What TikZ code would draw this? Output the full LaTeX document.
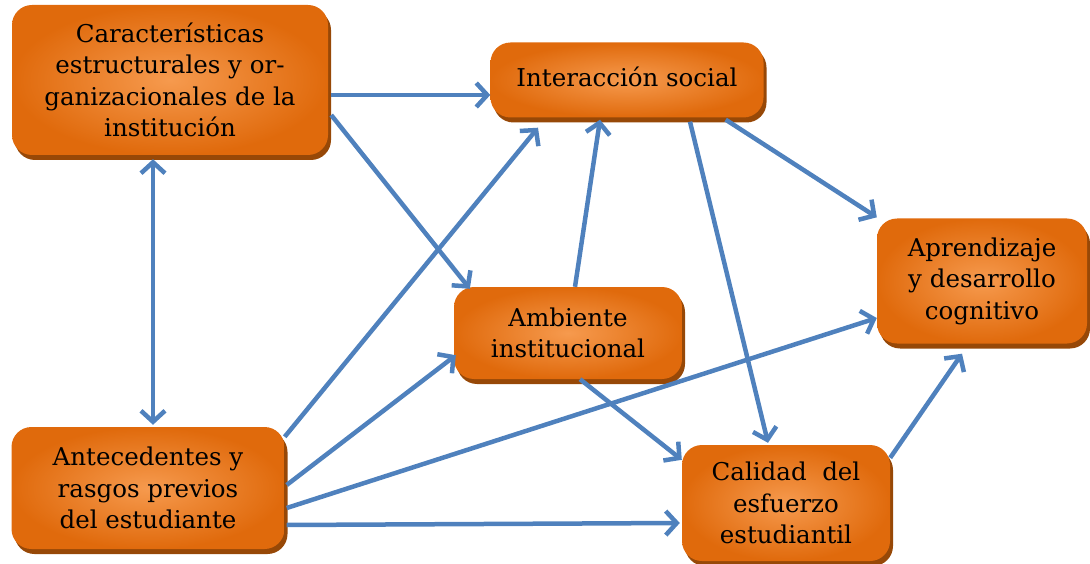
\documentclass[tikz,border=0pt]{standalone}
\usepackage{fontspec}
\setmainfont{DejaVu Serif}
\usetikzlibrary{arrows.meta,shadows,calc}
\definecolor{boxout}{RGB}{224,106,12}
\definecolor{boxin}{RGB}{246,154,78}
\definecolor{boxshade}{RGB}{151,72,7}
\definecolor{linkblue}{RGB}{79,129,189}
\tikzset{
  factor/.style={rounded corners=20pt, align=center, inner sep=0pt,
    shading=radial, inner color=boxin, outer color=boxout,
    drop shadow={shadow xshift=3pt, shadow yshift=-5pt, fill=boxshade, opacity=1},
    font=\fontsize{24.5}{31.5}\selectfont},
  link/.style={draw=linkblue, line width=4.5pt,
    -{Straight Barb[length=11pt,width=24pt]}},
  bilink/.style={link, {Straight Barb[length=11pt,width=24pt]}-{Straight Barb[length=11pt,width=24pt]}}
}
\begin{document}
\begin{tikzpicture}[x=1pt,y=-1pt]
        \useasboundingbox (0,0) rectangle (1090,564);

        % Placing the boxes
        \node [factor, minimum width=316pt, minimum height=150pt] (caract) at (170,80)
          {Características\\estructurales y or-\\ganizacionales de la\\institución};%
        \node [factor, minimum width=273pt, minimum height=75pt] (interac) at (627,80)
          {\raisebox{6pt}{Interacción social}};%
        \node [factor, minimum width=210pt, minimum height=125pt] (aprend) at (982,281)
          {Aprendizaje\\y desarrollo\\cognitivo};%
        \node [factor, minimum width=228pt, minimum height=92pt] (ambiente) at (568,333)
          {Ambiente\\institucional};%
        \node [factor, minimum width=273pt, minimum height=122pt] (anteced) at (148,488)
          {Antecedentes y\\rasgos previos\\del estudiante};%
        \node [factor, minimum width=208pt, minimum height=116pt] (calidad) at (786,503)
          {Calidad\ \ del\\esfuerzo\\estudiantil};%

        % Drawing arrows from caract
        \draw [link] ([xshift=3pt,yshift=-15pt]caract.east) -- ([yshift=-15pt]interac.west);%
        \draw [link] ([xshift=3pt,yshift=-35pt]caract.east) -- ([xshift=16pt,yshift=-2pt]ambiente.north west);%
        \draw [bilink] ([xshift=-17pt,yshift=-4pt]caract.south) -- ([xshift=5pt,yshift=2pt]anteced.north);%

        % Drawing arrows from anteced
        \draw [link] ([yshift=-10pt]anteced.north east) -- ([xshift=-89pt,yshift=-10pt]interac.south);%
        \draw [link] ([xshift=2pt,yshift=3pt]anteced.east) -- ([xshift=2pt,yshift=24pt]ambiente.south west);%
        \draw [link] ([xshift=2pt,yshift=-20pt]anteced.east) -- ([yshift=-37pt]aprend.west);%
        \draw [link] ([xshift=2pt,yshift=-37pt]anteced.east) -- ([xshift=-2pt,yshift=-20pt]calidad.west);%

        % Drawing arrows from ambiente
        \draw [link] ([xshift=7pt]ambiente.north) -- ([xshift=-27pt,yshift=-2pt]interac.south);%
        \draw [link] ([xshift=12pt]ambiente.south) -- ([yshift=-15pt]calidad.north west);%

        % Drawing arrows from interac
        \draw [link] ([xshift=-38pt,yshift=-2pt]interac.south east) -- ([yshift=1pt]aprend.north west);%
        \draw [link] ([xshift=63pt,yshift=-4pt]interac.south) -- ([xshift=-18pt,yshift=2pt]calidad.north);%

        % Drawing arrow from calidad
        \draw [link] ([yshift=-13pt]calidad.north east) -- ([xshift=-20pt,yshift=-10pt]aprend.south);%
    \end{tikzpicture}
\end{document}
